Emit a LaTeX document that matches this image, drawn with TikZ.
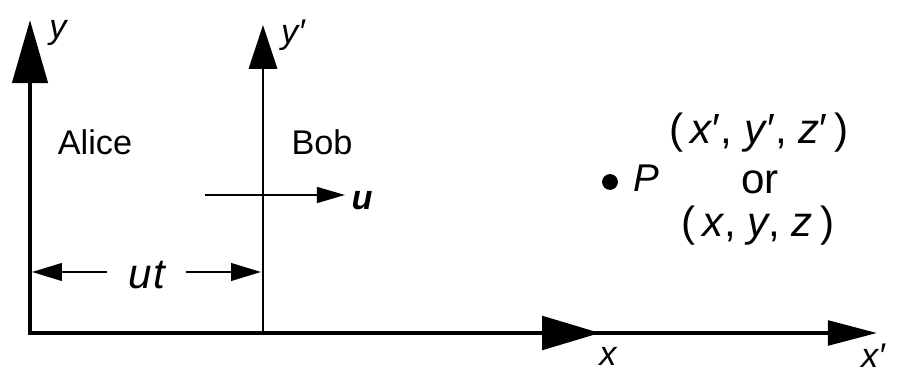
\documentclass[tikz,border=0pt]{standalone}
\usepackage{fontspec}
\setmainfont{Liberation Sans}
\usetikzlibrary{arrows.meta}
\begin{document}
\begin{tikzpicture}[x=0.02cm,y=-0.02cm,
  lbl/.style={font=\fontsize{19.5}{22}\selectfont, inner sep=0pt},
  ilbl/.style={font=\fontsize{19.5}{22}\selectfont\itshape, inner sep=0pt},
  big/.style={font=\fontsize{24}{28}\selectfont, inner sep=0pt},
  line join=miter]
\useasboundingbox (0,0) rectangle (897,374);
% coordinates
\coordinate (O) at (30,333);
\coordinate (ytip) at (30,20);
\coordinate (xtip) at (600,333);
\coordinate (Ob) at (263,333);
\coordinate (yptip) at (263,25);
\coordinate (xptip) at (877,333);
\coordinate (us) at (205,195);
\coordinate (ue) at (345,195);
\coordinate (dl) at (32,272);
\coordinate (dr) at (261,272);
\coordinate (a1) at (107,272);
\coordinate (a2) at (186,272);
% axes
\draw[line width=2.6pt, {Triangle[length=36pt,width=20pt]}-{Triangle[length=33pt,width=19pt]}] (ytip) -- (O) -- (xtip);
\draw[line width=2.2pt, -{Triangle[length=28pt,width=14pt]}] (Ob) -- (xptip);
\draw[line width=1.7pt, -{Triangle[length=25pt,width=16pt]}] (Ob) -- (yptip);
% u arrow
\draw[line width=1.2pt, -{Triangle[length=16pt,width=9pt]}] (us) -- (ue);
\node[lbl, font=\fontsize{19.5}{22}\selectfont\bfseries\itshape] (u) at (362,201) {u};
% ut dimension
\node[big, font=\fontsize{24}{28}\selectfont\itshape] (ut) at (147,275) {u\kern1pt t};
\draw[line width=1.2pt, -{Triangle[length=17pt,width=10pt]}] (a1) -- (dl);
\draw[line width=1.2pt, -{Triangle[length=17pt,width=10pt]}] (a2) -- (dr);
% texts
\node[lbl] (alice) at (95,142) {Alice};
\node[lbl] (bob) at (322,142) {Bob};
\node[ilbl] (ylab) at (58,33) {y};
\node[ilbl] (yplab) at (293,35) {y′};
\node[ilbl] (xlab) at (608,356) {x};
\node[ilbl] (xplab) at (873,356) {x′};
\fill (610,182) circle (4.5pt) coordinate (P);
\node[big, font=\fontsize{22}{26}\selectfont\itshape] (Plab) at (646,178) {P};
\node[big] (c1) at (759,133) {(\,\textit{x}′, \textit{y}′, \textit{z}′\,)};
\node[big] (or) at (760,182) {or};
\node[big] (c2) at (758,226) {(\,\textit{x}, \textit{y}, \textit{z}\,)};
\end{tikzpicture}
\end{document}
